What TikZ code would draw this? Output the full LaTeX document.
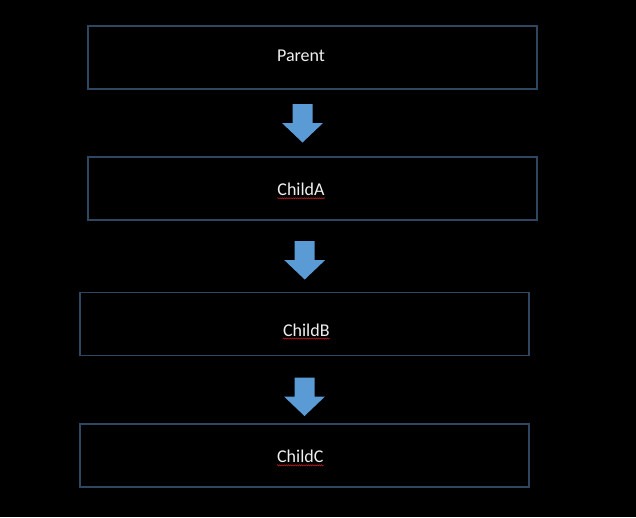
\documentclass[tikz,border=0pt]{standalone}
\usepackage{fontspec}
\setmainfont{Carlito}
\usetikzlibrary{decorations.pathmorphing}
\definecolor{boxline}{RGB}{47,70,96}
\definecolor{arrowblue}{RGB}{91,155,213}
\definecolor{txt}{RGB}{240,240,240}
\definecolor{squig}{RGB}{200,30,30}
\tikzset{
  stagebox/.style={draw=boxline, line width=1.1pt, rectangle, minimum width=449pt, minimum height=63pt, inner sep=0pt},
  stagetext/.style={text=txt, font=\fontsize{18}{22}\selectfont, anchor=base, inner sep=0pt},
  spellmark/.style={draw=squig, line width=0.5pt, decorate, decoration={snake, segment length=2.2pt, amplitude=0.6pt}},
  blockarrow/.pic={\fill[arrowblue] (-10,0) -- (10,0) -- (10,19) -- (20.5,19) -- (0,38.5) -- (-20.5,19) -- (-10,19) -- cycle;}
}
\begin{document}
\begin{tikzpicture}[x=1pt,y=-1pt]
\fill[black] (0,0) rectangle (636,517);
\useasboundingbox (0,0) rectangle (636,517);
% boxes
\node[stagebox] (parent) at (312.5,57.5) {};
\node[stagebox] (childA) at (312.5,188.5) {};
\node[stagebox] (childB) at (304.5,324) {};
\node[stagebox] (childC) at (304.5,455.5) {};
% texts
\node[stagetext] (tparent) at (301,61.7) {Parent};
\node[stagetext] (tchildA) at (301,195.7) {ChildA};
\node[stagetext] (tchildB) at (306.3,336) {ChildB};
\node[stagetext] (tchildC) at (300.3,462.7) {ChildC};
% spell-check marks
\draw[spellmark] ([yshift=-2.6pt]tchildA.base west) -- ([yshift=-2.6pt]tchildA.base east);
\draw[spellmark] ([yshift=-2.6pt]tchildB.base west) -- ([yshift=-2.6pt]tchildB.base east);
\draw[spellmark] ([yshift=-2.6pt]tchildC.base west) -- ([yshift=-2.6pt]tchildC.base east);
% block arrows
\coordinate (a1) at (302.5,104);
\coordinate (a2) at (304.7,241);
\coordinate (a3) at (304.5,377.5);
\pic at (a1) {blockarrow};
\pic at (a2) {blockarrow};
\pic at (a3) {blockarrow};
\end{tikzpicture}
\end{document}
